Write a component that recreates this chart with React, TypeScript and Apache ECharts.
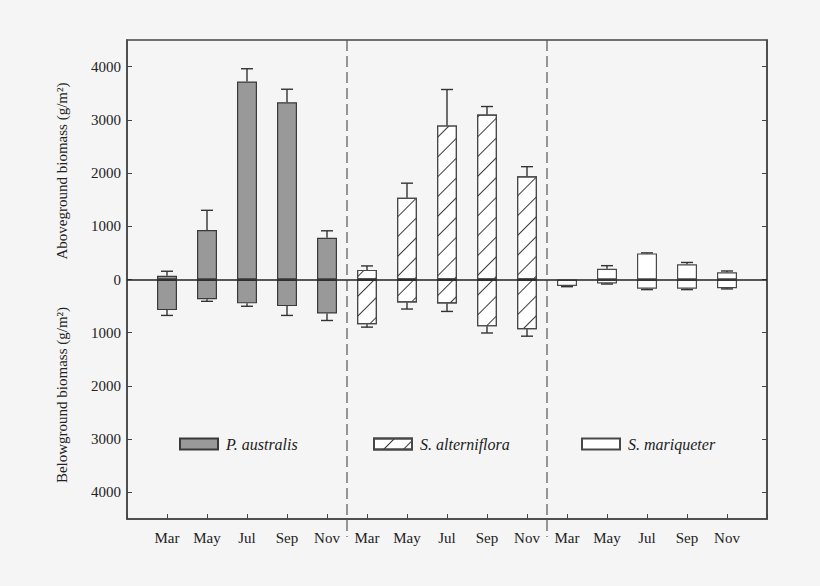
import {useEffect, useRef} from 'react';
import * as echarts from 'echarts';

const monthLabels = ['', 'Mar', 'May', 'Jul', 'Sep', 'Nov', 'Mar', 'May', 'Jul', 'Sep', 'Nov', 'Mar', 'May', 'Jul', 'Sep', 'Nov', ''];
const speciesNames = ['P. australis', 'S. alterniflora', 'S. mariqueter'];
const yTickValues = [-4000, -3000, -2000, -1000, 0, 1000, 2000, 3000, 4000];
const separatorsX = [5.5, 10.5];

// aboveground (g/m2), Mar May Jul Sep Nov
const aboveP = [70, 930, 3720, 3330, 785];
const aboveErrP = [85, 370, 240, 245, 130];
const aboveS = [180, 1535, 2895, 3100, 1940];
const aboveErrS = [75, 275, 675, 150, 180];
const aboveM = [0, 200, 490, 285, 135];
const aboveErrM = [0, 60, 10, 35, 25];

// belowground (g/m2), drawn downwards
const belowP = [575, 372, 448, 500, 640];
const belowErrP = [100, 38, 55, 175, 130];
const belowS = [840, 430, 450, 880, 935];
const belowErrS = [55, 125, 150, 125, 130];
const belowM = [120, 75, 175, 175, 165];
const belowErrM = [15, 10, 15, 15, 12];

const FONT = '"Liberation Serif", "DejaVu Serif", serif';

const groups = [
    {above: aboveP, aboveErr: aboveErrP, below: belowP, belowErr: belowErrP},
    {above: aboveS, aboveErr: aboveErrS, below: belowS, belowErr: belowErrS},
    {above: aboveM, aboveErr: aboveErrM, below: belowM, belowErr: belowErrM}
];

const barStyles = [
    {color: '#999999', borderColor: '#3a3a3a', borderWidth: 1.2},
    {
        color: '#ffffff', borderColor: '#484848', borderWidth: 1.2,
        decal: {
            symbol: 'rect', symbolSize: 1, color: '#3a3a3a',
            dashArrayX: [1, 0], dashArrayY: [1, 13], rotation: -Math.PI / 4
        }
    },
    {color: '#ffffff', borderColor: '#484848', borderWidth: 1.2}
];

export default function App() {
    const ref = useRef<HTMLDivElement | null>(null);

    useEffect(() => {
        document.body.style.margin = '0';
        document.body.style.background = '#f5f5f5';
        if (!ref.current) return;
        const chart = echarts.init(ref.current, null, {renderer: 'svg'});

        const barSeries: any[] = [];
        const errData: number[][] = [];
        groups.forEach((g, s) => {
            const up: number[][] = [];
            const down: number[][] = [];
            g.above.forEach((v, i) => {
                const x = s * 5 + i + 1;
                if (v) up.push([x, v]);
                down.push([x, -g.below[i]]);
                if (g.aboveErr[i]) errData.push([x, v, g.aboveErr[i]]);
                if (g.belowErr[i]) errData.push([x, -g.below[i], -g.belowErr[i]]);
            });
            [up, down].forEach(data => {
                barSeries.push({
                    name: speciesNames[s],
                    type: 'bar',
                    data,
                    barWidth: 20,
                    barGap: '-100%',
                    itemStyle: barStyles[s],
                    z: 2
                });
            });
        });

        barSeries[0].markLine = {
            silent: true,
            symbol: 'none',
            z: 5,
            label: {show: false},
            lineStyle: {color: '#222222', width: 1.6, type: 'solid'},
            data: [{yAxis: 0}]
        };

        const legendBase = {
            icon: 'rect',
            itemWidth: 38,
            itemHeight: 11,
            top: 436,
            padding: 0,
            textStyle: {fontFamily: FONT, fontStyle: 'italic', fontSize: 16, color: '#222222', padding: [0, 0, 0, 3]}
        };

        chart.setOption({
            animation: false,
            backgroundColor: '#f5f5f5',
            grid: {left: 127, right: 53, top: 40, bottom: 67, show: true, borderColor: '#444444', borderWidth: 1.5, backgroundColor: 'transparent'},
            legend: [
                {...legendBase, left: 179, data: [speciesNames[0]]},
                {...legendBase, left: 373, data: [speciesNames[1]]},
                {...legendBase, left: 581, data: [speciesNames[2]]}
            ],
            xAxis: {
                type: 'value',
                min: 0,
                max: 16,
                interval: 1,
                splitLine: {show: false},
                axisLine: {onZero: false, lineStyle: {color: '#444444', width: 1.5}},
                axisTick: {inside: true, length: 5, lineStyle: {color: '#444444'}},
                axisLabel: {
                    margin: 11,
                    fontFamily: FONT,
                    fontSize: 15,
                    color: '#222222',
                    formatter: (v: number) => monthLabels[v] ?? ''
                }
            },
            yAxis: [
                {
                    type: 'value',
                    min: -4500,
                    max: 4500,
                    splitLine: {show: false},
                    axisLine: {show: true, onZero: false, lineStyle: {color: '#444444', width: 1.5}},
                    axisTick: {show: true, inside: true, length: 5, customValues: yTickValues, lineStyle: {color: '#444444'}},
                    axisLabel: {
                        margin: 6,
                        fontFamily: FONT,
                        fontSize: 15,
                        color: '#222222',
                        customValues: yTickValues,
                        formatter: (v: number) => String(Math.abs(v))
                    }
                },
                {
                    type: 'value',
                    position: 'right',
                    min: -4500,
                    max: 4500,
                    splitLine: {show: false},
                    axisLine: {show: true, onZero: false, lineStyle: {color: '#444444', width: 1.5}},
                    axisTick: {show: true, inside: true, length: 5, customValues: yTickValues, lineStyle: {color: '#444444'}},
                    axisLabel: {show: false}
                }
            ],
            graphic: [
                {
                    type: 'text', x: 62, y: 171, rotation: Math.PI / 2,
                    style: {text: 'Aboveground biomass (g/m²)', font: `15px ${FONT}`, fill: '#222222', align: 'center', verticalAlign: 'middle'}
                },
                {
                    type: 'text', x: 62, y: 395, rotation: Math.PI / 2,
                    style: {text: 'Belowground biomass (g/m²)', font: `15px ${FONT}`, fill: '#222222', align: 'center', verticalAlign: 'middle'}
                }
            ],
            series: [
                ...barSeries,
                {
                    type: 'custom',
                    name: 'err',
                    data: errData,
                    z: 4,
                    renderItem: (_params: any, api: any) => {
                        const x = api.value(0);
                        const v = api.value(1);
                        const e = api.value(2);
                        const p0 = api.coord([x, v]);
                        const p1 = api.coord([x, v + e]);
                        const st = {stroke: '#333333', lineWidth: 1.4};
                        return {
                            type: 'group',
                            children: [
                                {type: 'line', shape: {x1: p0[0], y1: p0[1], x2: p1[0], y2: p1[1]}, style: st},
                                {type: 'line', shape: {x1: p1[0] - 6, y1: p1[1], x2: p1[0] + 6, y2: p1[1]}, style: st}
                            ]
                        };
                    }
                },
                {
                    type: 'custom',
                    name: 'sep',
                    data: separatorsX,
                    clip: false,
                    z: 1,
                    renderItem: (_params: any, api: any) => {
                        const x = api.value(0);
                        const top = api.coord([x, 4500]);
                        const bottom = api.coord([x, -4500]);
                        return {
                            type: 'line',
                            shape: {x1: top[0], y1: top[1], x2: bottom[0], y2: bottom[1] + 18},
                            style: {stroke: '#555555', lineWidth: 1.2, lineDash: [11, 5]}
                        };
                    }
                }
            ]
        });

        return () => chart.dispose();
    }, []);

    return <div ref={ref} style={{width: 820, height: 586}}/>;
}
